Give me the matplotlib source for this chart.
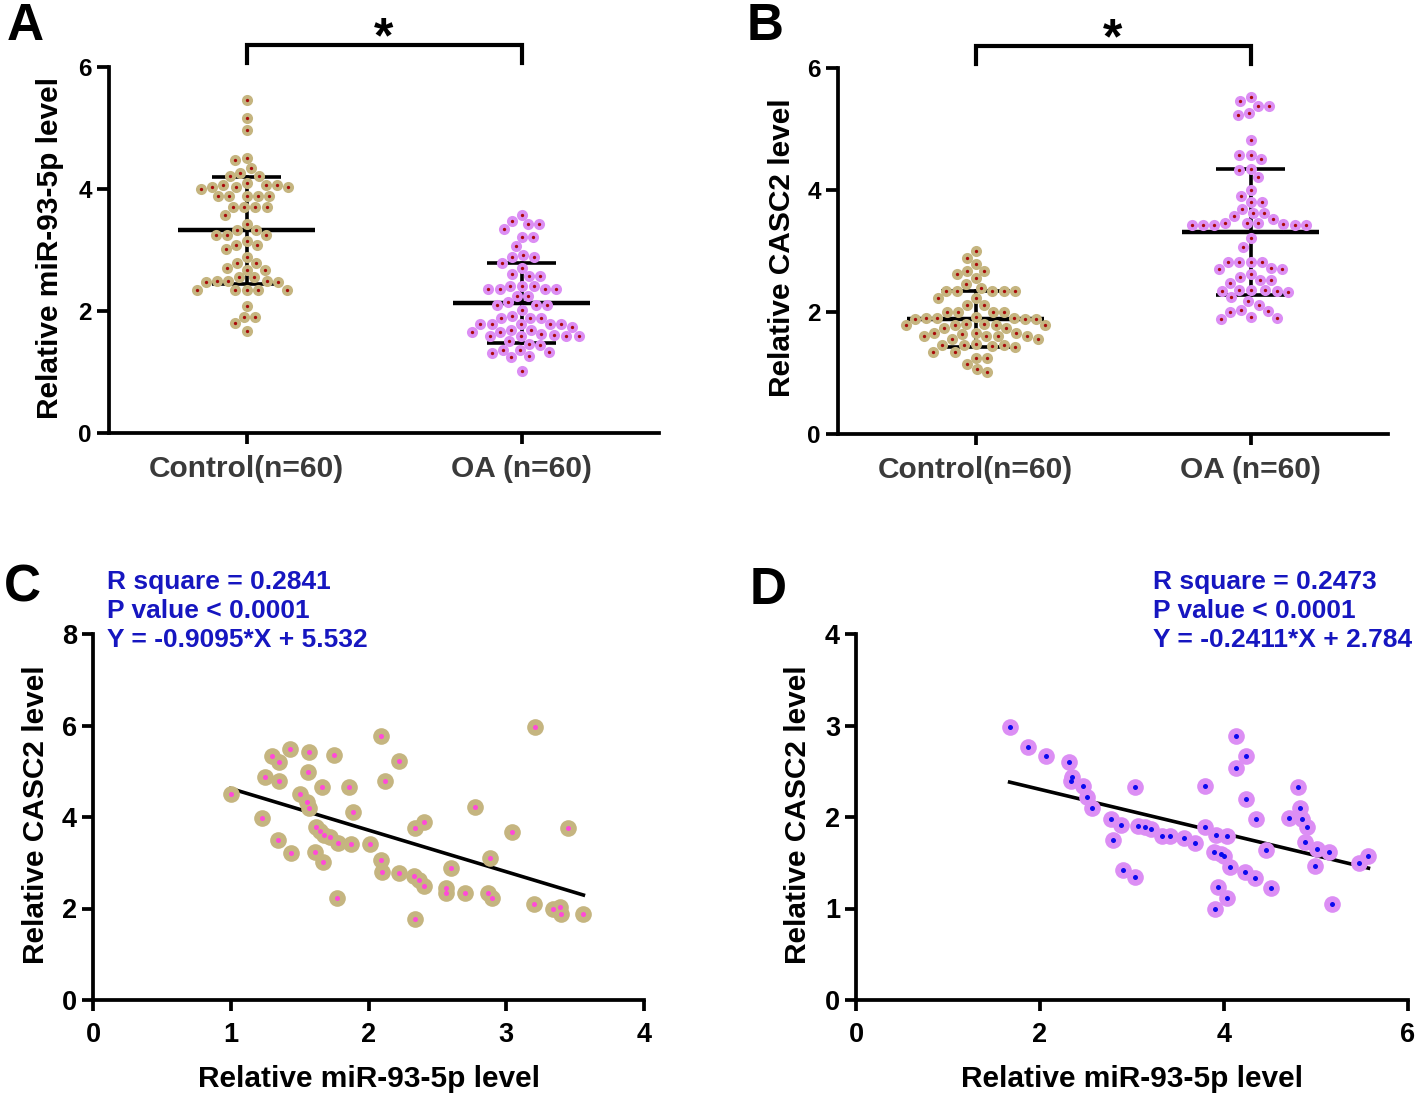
import numpy as np
import matplotlib
matplotlib.use("Agg")
import matplotlib.pyplot as plt

plt.rcParams['font.family'] = ['Liberation Sans', 'DejaVu Sans']
plt.rcParams['font.weight'] = 'bold'

# ---------------- data ----------------
groups = ["Control(n=60)", "OA (n=60)"]

mir_control = [5.46, 5.16, 4.96, 4.51, 4.48, 4.34, 4.27, 4.22, 4.22,
               4.04, 4.04, 4.10, 4.07, 4.07, 4.07, 4.00, 4.03,
               3.89, 3.89, 3.88, 3.89, 3.89,
               3.71, 3.71, 3.71, 3.71,
               3.58, 3.42, 3.33, 3.33,
               3.24, 3.24, 3.24, 3.14,
               3.09, 3.09, 3.01, 2.89, 2.79, 2.79, 2.71, 2.68, 2.68,
               2.55, 2.55,
               2.50, 2.47, 2.50, 2.50, 2.47,
               2.35, 2.35, 2.35, 2.35, 2.35,
               2.08, 1.90, 1.90, 1.80, 1.68]
mir_oa = [3.57, 3.42, 3.42, 3.47, 3.35, 3.22, 3.22, 3.06, 2.89, 2.89, 2.92,
          2.79, 2.71, 2.57, 2.57, 2.61,
          2.41, 2.41, 2.36, 2.36, 2.36, 2.36, 2.41, 2.24, 2.24,
          2.10, 2.10, 2.10, 2.14, 2.01,
          1.89, 1.88, 1.89, 1.91,
          1.78, 1.78, 1.74, 1.69, 1.78, 1.78, 1.78,
          1.59, 1.59, 1.66, 1.63, 1.66, 1.69, 1.59, 1.59, 1.61,
          1.51, 1.44, 1.46,
          1.36, 1.32, 1.31, 1.36,
          1.26, 1.24,
          1.01]

casc_control = [3.00, 2.89, 2.79, 2.67, 2.63, 2.67, 2.55, 2.46,
                2.35, 2.35, 2.35, 2.35, 2.35, 2.39,
                2.23, 2.23, 2.11, 2.11,
                2.00, 2.00, 2.00, 2.00,
                1.91, 1.90, 1.88, 1.88, 1.88, 1.90, 1.90,
                1.81, 1.79, 1.78, 1.74, 1.74, 1.78, 1.79, 1.80,
                1.65, 1.65, 1.64, 1.66,
                1.61, 1.60, 1.56, 1.55, 1.60, 1.61,
                1.47, 1.46, 1.45, 1.46, 1.43, 1.46,
                1.35, 1.35, 1.25, 1.25, 1.14, 1.01, 1.06]
casc_oa = [5.52, 5.46, 5.37, 5.38, 5.23, 5.26,
           4.82, 4.57, 4.51, 4.57, 4.33, 4.35, 4.22,
           4.00, 3.90, 3.81, 3.81, 3.69, 3.62, 3.62, 3.57, 3.52,
           3.46, 3.46, 3.42, 3.42, 3.42, 3.42, 3.42, 3.44, 3.46,
           3.21, 3.07,
           2.82, 2.82, 2.82, 2.82, 2.71, 2.72, 2.70, 2.62, 2.57,
           2.47, 2.52, 2.52,
           2.35, 2.35, 2.33, 2.36, 2.36, 2.36,
           2.24, 2.18, 2.11,
           2.01, 2.00, 2.04, 1.91, 1.89, 1.90]

# Panel C: control group correlation
c_mir = [1.00, 1.23, 1.25, 1.30, 1.35, 1.35, 1.43, 1.34, 1.44, 1.57, 1.56, 1.50,
         1.55, 1.57, 1.66, 1.75, 1.61, 1.67, 1.62, 1.65, 1.68, 1.72, 1.78, 1.86,
         1.89, 1.87, 1.77, 2.01, 2.09, 2.12, 2.22, 2.09, 2.10, 2.22, 2.33, 2.37,
         2.40, 2.34, 2.40, 2.34, 2.56, 2.56, 2.60, 2.70, 2.77, 2.88, 2.87, 2.90,
         3.04, 3.21, 3.20, 3.34, 3.40, 3.39, 3.45, 3.56]
c_casc = [4.50, 3.98, 4.88, 5.33, 5.20, 4.79, 5.49, 3.50, 3.21, 5.43, 4.98, 4.50,
          4.33, 4.20, 4.66, 5.35, 3.23, 3.01, 3.79, 3.70, 3.61, 3.56, 3.44, 4.66,
          4.12, 3.40, 2.22, 3.40, 5.76, 4.79, 5.22, 3.05, 2.79, 2.77, 2.70, 2.63,
          2.50, 3.77, 3.88, 1.78, 2.44, 2.33, 2.89, 2.33, 4.22, 3.11, 2.33, 2.22,
          3.67, 5.97, 2.09, 1.99, 1.89, 2.03, 3.77, 1.88]
c_fit = (-0.9095, 5.532)
c_stats = ["R square = 0.2841", "P value < 0.0001", "Y = -0.9095*X + 5.532"]

# Panel D: OA group correlation
d_mir = [1.67, 1.87, 2.06, 2.31, 2.35, 2.34, 2.47, 2.51, 2.56, 2.77, 2.88, 2.79,
         3.03, 2.90, 3.03, 3.07, 3.14, 3.21, 3.33, 3.41, 3.57, 3.68, 3.79, 3.79,
         3.91, 4.03, 3.89, 3.97, 4.00, 4.06, 4.23, 4.34, 3.93, 4.03, 3.90, 4.13,
         4.24, 4.13, 4.24, 4.35, 4.46, 4.51, 4.80, 4.83, 4.71, 4.85, 4.90, 4.88,
         5.01, 5.14, 4.99, 5.17, 5.47, 5.57]
d_casc = [2.98, 2.77, 2.67, 2.60, 2.44, 2.39, 2.34, 2.22, 2.10, 1.98, 1.91, 1.75,
          2.33, 1.42, 1.34, 1.90, 1.89, 1.87, 1.79, 1.79, 1.77, 1.72, 2.34, 1.89,
          1.80, 1.79, 1.62, 1.60, 1.57, 1.45, 1.40, 1.33, 1.23, 1.12, 0.99, 2.88,
          2.67, 2.54, 2.20, 1.98, 1.64, 1.22, 2.33, 2.10, 1.99, 1.98, 1.89, 1.73,
          1.65, 1.62, 1.46, 1.05, 1.50, 1.57]
d_fit = (-0.2411, 2.784)
d_stats = ["R square = 0.2473", "P value < 0.0001", "Y = -0.2411*X + 2.784"]

# ---------------- style ----------------
TAN = '#c5b580'
DARKRED = '#a80a0a'
VIOLET = '#dc8ef4'
MAGENTA = '#ff4ad8'
BLUE = '#0a0aee'
TXTBLUE = '#1616c0'
GRAY = '#3a3a3a'
W, H = 1418, 1096
fig = plt.figure(figsize=(W / 100, H / 100), dpi=100)


def rect(l, r, t, b):
    return [l / W, 1 - b / H, (r - l) / W, (b - t) / H]


def style_axes(ax, tick_fs):
    for s in ['top', 'right']:
        ax.spines[s].set_visible(False)
    for s in ['left', 'bottom']:
        ax.spines[s].set_linewidth(2.7)
    ax.tick_params(width=2.7, length=7, labelsize=tick_fs, direction='out')
    for lab in ax.get_xticklabels() + ax.get_yticklabels():
        lab.set_fontweight('bold')


def swarm_offsets(vals, ypx, xpx, d):
    vals = np.asarray(vals, float)
    order = np.argsort(-vals)
    placed = []
    xs = np.zeros(len(vals))
    for i in order:
        y = vals[i] * ypx
        cands = [0.0]
        for (px, py) in placed:
            dy = y - py
            if abs(dy) < d:
                dx = np.sqrt(d * d - dy * dy)
                cands += [px + dx, px - dx]
        cands = sorted(cands, key=lambda c: (abs(c), c))
        for c in cands:
            if all((c - px) ** 2 + (y - py) ** 2 >= d * d - 1e-6 for (px, py) in placed):
                break
        placed.append((c, y))
        xs[i] = c / xpx
    return xs


def dot_panel(ax, data_list, face_cols, ylabel, letter, letter_xy, ylabel_x):
    ax.set_xlim(-0.5, 1.5)
    ax.set_ylim(0, 6)
    bb = ax.get_position()
    xpx = bb.width * W / 2.0
    ypx = bb.height * H / 6.0
    for k, (vals, fc) in enumerate(zip(data_list, face_cols)):
        v = np.asarray(vals)
        m, sd = v.mean(), v.std(ddof=1)
        ax.plot([k - 0.25, k + 0.25], [m, m], color='black', lw=3.2, zorder=2,
                solid_capstyle='butt')
        ax.plot([k, k], [m - sd, m + sd], color='black', lw=2.6, zorder=2)
        for yy in (m - sd, m + sd):
            ax.plot([k - 0.125, k + 0.125], [yy, yy], color='black', lw=2.6,
                    zorder=2, solid_capstyle='butt')
        xo = swarm_offsets(v, ypx, xpx, 11.2)
        ax.plot(k + xo, v, 'o', ms=8.0, mfc=fc, mec='none', zorder=3)
        ax.plot(k + xo, v, 'o', ms=2.4, mfc=DARKRED, mec='none', zorder=4)
    ax.set_xticks([0, 1])
    ax.set_xticklabels(groups)
    ax.set_yticks([0, 2, 4, 6])
    style_axes(ax, 17.5)
    ax.tick_params(axis='x', labelsize=21.5, labelcolor=GRAY, pad=8, length=8)
    ax.tick_params(axis='y', length=9)
    # significance bracket
    ax.plot([0, 0, 1, 1], [6.06, 6.36, 6.36, 6.06], color='black', lw=3.0,
            clip_on=False, solid_joinstyle='miter')
    ax.text(0.5, 6.08, '*', ha='center', va='bottom', fontsize=36,
            fontweight='bold', clip_on=False)
    fig.text(ylabel_x / W, 1 - 248 / H, ylabel, rotation=90, ha='center',
             va='center', fontsize=21.5, fontweight='bold')
    fig.text(letter_xy[0] / W, 1 - letter_xy[1] / H, letter, ha='center',
             va='center', fontsize=37, fontweight='bold')


axA = fig.add_axes(rect(109, 659, 67, 433))
dot_panel(axA, [mir_control, mir_oa], [TAN, VIOLET],
          'Relative miR-93-5p level', 'A', (25, 26), 50)
axB = fig.add_axes(rect(838, 1388, 68, 434))
dot_panel(axB, [casc_control, casc_oa], [TAN, VIOLET],
          'Relative CASC2 level', 'B', (765, 26), 782)


def corr_panel(ax, xs, ys, fit, stats, face, center, xmax, ymax, xt, yt,
               letter, letter_xy, stat_x, ylabel_x):
    ax.set_xlim(0, xmax)
    ax.set_ylim(0, ymax)
    xs = np.asarray(xs)
    xl = np.array([xs.min(), xs.max()])
    ax.plot(xl, fit[0] * xl + fit[1], color='black', lw=2.6, zorder=2)
    ax.plot(xs, ys, 'o', ms=12.0, mfc=face, mec='none', zorder=3)
    ax.plot(xs, ys, 'o', ms=3.6, mfc=center, mec='none', zorder=4)
    ax.set_xticks(xt)
    ax.set_yticks(yt)
    style_axes(ax, 19.5)
    ax.tick_params(axis='x', pad=8, length=8)
    ax.tick_params(axis='y', length=8)
    ax.set_xlabel('Relative miR-93-5p level', fontsize=21.5, fontweight='bold',
                  labelpad=12)
    fig.text(ylabel_x / W, 1 - 815 / H, 'Relative CASC2 level', rotation=90,
             ha='center', va='center', fontsize=21.5, fontweight='bold')
    for i, s in enumerate(stats):
        fig.text(stat_x / W, 1 - (582 + 29 * i) / H, s, ha='left', va='center',
                 fontsize=19, fontweight='bold', color=TXTBLUE)
    fig.text(letter_xy[0] / W, 1 - letter_xy[1] / H, letter, ha='center',
             va='center', fontsize=37, fontweight='bold')


axC = fig.add_axes(rect(93, 644, 634, 1000))
corr_panel(axC, c_mir, c_casc, c_fit, c_stats, TAN, MAGENTA, 4, 8,
           [0, 1, 2, 3, 4], [0, 2, 4, 6, 8], 'C', (22, 588), 107, 36)
axD = fig.add_axes(rect(856, 1408, 634, 1000))
corr_panel(axD, d_mir, d_casc, d_fit, d_stats, VIOLET, BLUE, 6, 4,
           [0, 2, 4, 6], [0, 1, 2, 3, 4], 'D', (768, 590), 1153, 798)

fig.savefig('out.png', dpi=100)
